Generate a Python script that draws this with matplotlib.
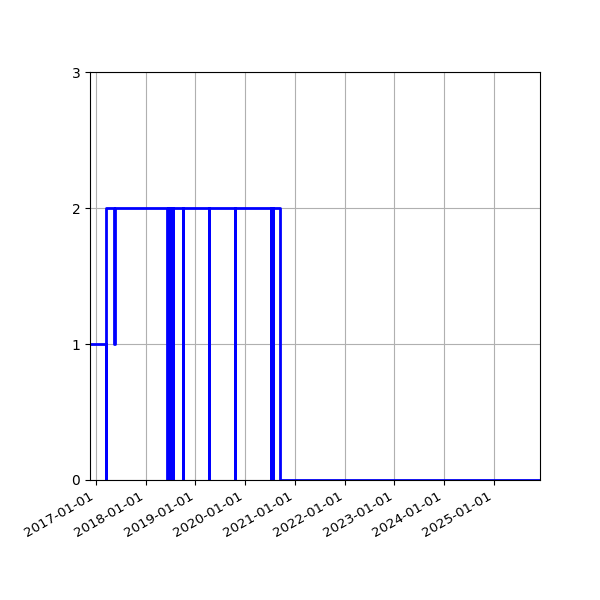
import pandas as pd
import matplotlib
matplotlib.use("Agg")
import matplotlib.pyplot as plt
import matplotlib.dates as mdates

# change points of the step series (value holds until next date)
dates = [
    "2016-11-18", "2017-03-14", "2017-03-17", "2017-05-14", "2017-05-17",
    "2018-06-05", "2018-06-12", "2018-06-15", "2018-06-19", "2018-06-23",
    "2018-06-27", "2018-07-01", "2018-07-05", "2018-07-09", "2018-07-13",
    "2018-07-17", "2018-07-20",
    "2018-09-29", "2018-10-02", "2019-04-08", "2019-04-11", "2019-10-18",
    "2019-10-21", "2020-07-06", "2020-07-10", "2020-07-20", "2020-07-24",
    "2020-09-10", "2025-12-05",
]
values = [
    1, 0, 2, 1, 2,
    0, 2, 0, 2, 0,
    2, 0, 2, 0, 2,
    0, 2,
    0, 2, 0, 2, 0,
    2, 0, 2, 0, 2,
    0, 0,
]
yticks = [0, 1, 2, 3]

df = pd.DataFrame({"date": pd.to_datetime(dates), "value": values})

fig, ax = plt.subplots(figsize=(6, 6), dpi=100)
ax.step(df["date"], df["value"], where="post", color="blue", linewidth=2)

ax.set_xlim(df["date"].iloc[0], df["date"].iloc[-1])
ax.set_ylim(0, 3)
ax.set_yticks(yticks)
ax.xaxis.set_major_locator(mdates.YearLocator())
ax.xaxis.set_major_formatter(mdates.DateFormatter("%Y-%m-%d"))
ax.tick_params(axis="x", labelsize=9.6)
ax.grid(True)

fig.autofmt_xdate()
fig.subplots_adjust(left=0.15, right=0.9, top=0.88, bottom=0.2)
fig.savefig("out.png")
